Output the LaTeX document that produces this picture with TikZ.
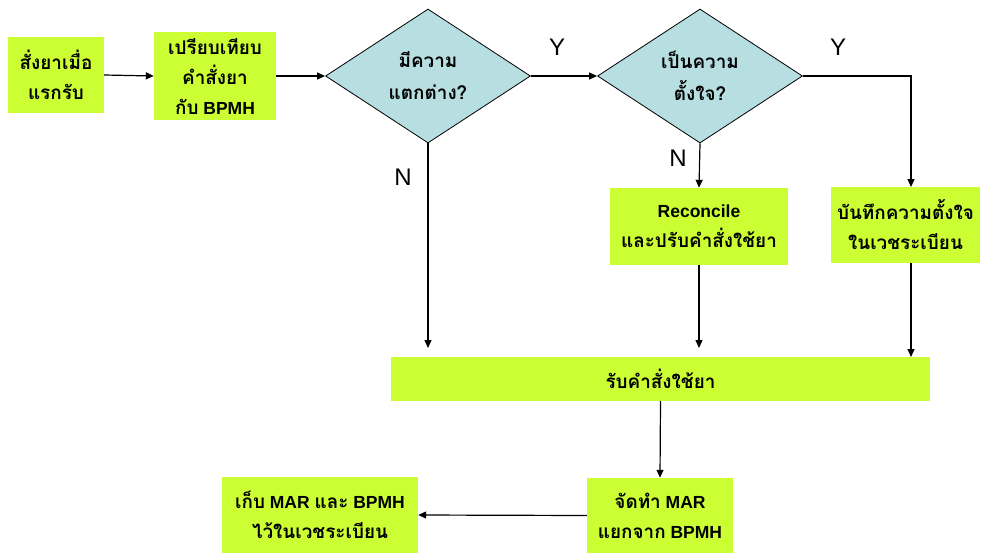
\documentclass[tikz,border=0pt]{standalone}
\usepackage{fontspec}
\setmainfont{Liberation Sans}
\newfontfamily\thai[Script=Thai,Scale=1.08]{Loma}
\usetikzlibrary{shapes.geometric,arrows.meta}
\definecolor{boxgreen}{RGB}{204,255,51}
\definecolor{decblue}{RGB}{183,222,225}
\begin{document}
\begin{tikzpicture}[x=1pt,y=-1pt,
  proc/.style={fill=boxgreen, inner sep=0pt, align=center,
    font=\bfseries\fontsize{17.5}{30}\selectfont},
  dec/.style={diamond, fill=decblue, draw=black, line width=0.8pt,
    inner sep=0pt, align=center, minimum width=205pt, minimum height=134pt,
    font=\bfseries\fontsize{17.5}{32}\selectfont},
  flow/.style={draw=black, line width=1.2pt, -{Triangle[length=8pt,width=7pt]}},
  yn/.style={font=\fontsize{24}{24}\selectfont}]
\useasboundingbox (0,0) rectangle (982,554);

% process boxes
\node[proc, minimum width=96pt, minimum height=76pt] (start) at (56,75)
  {\thai สั่งยาเมื่อ\\\thai แรกรับ};
\node[proc, minimum width=122pt, minimum height=88pt] (cmp) at (215,76)
  {\thai เปรียบเทียบ\\\thai คำสั่งยา\\{\thai กับ} BPMH};

% decisions
\node[dec] (diff) at (428,76) {\thai มีความ\\\thai แตกต่าง?};
\node[dec] (intent) at (700,76) {\thai เป็นความ\\\thai ตั้งใจ?};

\node[proc, minimum width=178pt, minimum height=77pt] (recon) at (699,226.5)
  {Reconcile\\\thai และปรับคำสั่งใช้ยา};
\node[proc, minimum width=149pt, minimum height=76pt] (note) at (905.5,225)
  {\thai บันทึกความตั้งใจ\\\thai ในเวชระเบียน};

\node[proc, minimum width=539pt, minimum height=44pt] (order) at (660.5,379)
  {\thai รับคำสั่งใช้ยา};

\node[proc, minimum width=146pt, minimum height=75pt] (mar) at (660,515.5)
  {{\thai จัดทำ} MAR\\{\thai แยกจาก} BPMH};
\node[proc, minimum width=196pt, minimum height=76pt] (keep) at (320,515)
  {{\thai เก็บ} MAR {\thai และ} BPMH\\\thai ไว้ในเวชระเบียน};

% helper points
\coordinate (noT) at (428,348);
\coordinate (reT) at (699,348);
\coordinate (yT) at (911,76);
\coordinate (yB) at (911,187);
\coordinate (nbT) at (911,263);
\coordinate (nbB) at (911,357);

% connectors
\draw[flow] (start.east) -- (cmp.west);
\draw[flow] (cmp.east) -- (diff.west);
\draw[flow] (diff.east) -- (intent.west);
\draw[flow] (intent.east) -- (yT) -- (yB);
\draw[flow] (intent.south) -- (recon.north);
\draw[flow] (diff.south) -- (noT);
\draw[flow] (recon.south) -- (reT);
\draw[flow] (nbT) -- (nbB);
\draw[flow] (order.south) -- (mar.north);
\draw[flow] (mar.west) -- (keep.east);

% branch labels
\node[yn] (y1) at (557,47) {Y};
\node[yn] (y2) at (838,47) {Y};
\node[yn] (n1) at (403,177) {N};
\node[yn] (n2) at (678,158) {N};
\end{tikzpicture}
\end{document}
